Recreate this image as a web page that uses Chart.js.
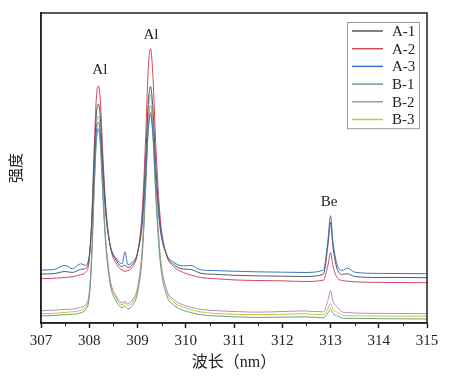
<!DOCTYPE html>
<html>
<head>
<meta charset="utf-8">
<script src="https://cdn.jsdelivr.net/npm/chart.js@4.4.1/dist/chart.umd.min.js"></script>
<style>
  html, body { margin: 0; padding: 0; background: #fff; }
  #wrap { width: 450px; height: 381px; position: relative; }
</style>
</head>
<body>
<div id="wrap"><canvas id="chart"></canvas></div>
<script>
// --- DATA (intensity in arbitrary units 0-100) ---

const wavelength = [
    307.0, 307.25, 307.5, 307.65, 307.82, 307.92, 308.0, 308.05, 308.1, 308.15,
    308.19, 308.23, 308.28, 308.34, 308.43, 308.57, 308.68, 308.74, 308.8, 308.9,
    309.0, 309.1, 309.17, 309.22, 309.27, 309.32, 309.38, 309.47, 309.6, 309.75,
    309.95, 310.1, 310.3, 310.6, 311.0, 311.5, 312.0, 312.45, 312.85, 312.95,
    313.0, 313.05, 313.15, 313.25, 313.35, 313.5, 314.0, 314.5, 315.0
];

const seriesA1 = [
    15.8, 15.9, 16.6, 16.3, 17.3, 17.6, 21.2, 32.2, 51.9, 67.8,
    70.6, 66.2, 51.6, 36.9, 25.4, 19.9, 18.2, 18.7, 17.9, 19.0,
    22.5, 34.0, 53.3, 70.3, 76.3, 69.1, 50.7, 31.9, 22.0, 18.9,
    17.4, 17.3, 16.1, 15.7, 15.4, 15.2, 15.1, 15.0, 15.7, 25.5,
    32.5, 24.6, 16.9, 15.7, 15.9, 15.0, 14.7, 14.7, 14.6
];

const seriesA2 = [
    14.3, 14.4, 14.7, 14.9, 15.6, 16.3, 20.4, 32.9, 55.3, 73.3,
    76.5, 71.6, 55.0, 38.3, 25.2, 18.9, 17.1, 16.7, 16.9, 18.2,
    22.5, 36.6, 60.2, 81.1, 88.5, 79.6, 57.1, 34.0, 22.0, 18.2,
    16.3, 15.5, 14.7, 14.3, 13.9, 13.7, 13.6, 13.4, 13.8, 18.9,
    22.7, 18.4, 14.4, 13.7, 13.5, 13.3, 13.1, 13.05, 13.0
];

const seriesA3 = [
    17.1, 17.2, 18.6, 17.5, 19.1, 18.6, 21.8, 31.3, 48.4, 62.3,
    64.7, 60.9, 48.1, 35.4, 25.3, 20.6, 19.1, 23.0, 18.8, 19.7,
    22.6, 32.1, 48.2, 62.3, 67.3, 61.2, 46.1, 30.3, 22.2, 19.6,
    18.4, 18.6, 17.2, 16.9, 16.7, 16.5, 16.4, 16.3, 17.0, 27.2,
    34.6, 26.3, 18.3, 17.0, 17.7, 16.4, 16.0, 15.95, 15.9
];

const seriesB1 = [
    2.3, 2.4, 2.7, 2.8, 3.3, 4.3, 8.2, 20.3, 42.0, 59.4,
    62.5, 57.7, 41.6, 25.5, 12.8, 6.8, 4.9, 5.4, 4.6, 5.8,
    9.6, 22.0, 43.1, 61.5, 68.0, 60.1, 40.3, 19.8, 9.1, 5.8,
    4.1, 3.4, 2.7, 2.3, 2.0, 1.8, 1.9, 2.0, 1.7, 3.3,
    4.5, 3.1, 2.2, 1.6, 1.5, 1.5, 1.4, 1.35, 1.3
];

const seriesB2 = [
    4.0, 4.1, 4.4, 4.5, 5.0, 5.9, 9.8, 21.6, 42.6, 59.7,
    62.7, 58.1, 42.4, 26.6, 14.2, 8.4, 6.6, 6.9, 6.3, 7.5,
    11.4, 23.8, 45.1, 63.6, 70.2, 62.2, 42.3, 21.6, 10.9, 7.6,
    5.8, 5.1, 4.4, 4.0, 3.7, 3.5, 3.7, 3.9, 3.6, 7.5,
    10.5, 7.1, 5.0, 3.5, 3.4, 3.2, 3.1, 3.05, 3.0
];

const seriesB3 = [
    3.0, 3.1, 3.4, 3.6, 4.1, 5.1, 9.4, 22.1, 45.0, 63.5,
    66.8, 61.8, 44.6, 27.6, 14.1, 7.8, 5.9, 6.5, 5.6, 6.8,
    10.9, 24.3, 46.9, 66.8, 73.8, 65.3, 43.9, 21.9, 10.5, 6.8,
    5.1, 4.3, 3.6, 3.1, 2.8, 2.7, 2.8, 3.0, 2.6, 4.7,
    6.3, 4.5, 3.4, 2.5, 2.4, 2.3, 2.25, 2.2, 2.2
];

const seriesNames = ['A-1', 'A-2', 'A-3', 'B-1', 'B-2', 'B-3'];
const seriesColors = ['#4f5a66', '#d9455f', '#3f74c4', '#6f9f80', '#b48cc0', '#c8c23a'];
const seriesValues = [seriesA1, seriesA2, seriesA3, seriesB1, seriesB2, seriesB3];

// peak labels in data coordinates
const peakLabels = [
    { text: 'Al', x: 308.22, y: 81.6 },
    { text: 'Al', x: 309.28, y: 92.9 },
    { text: 'Be', x: 312.97, y: 39.0 }
];

const SERIF = "'Liberation Serif', 'Noto Sans CJK SC', serif";
const INK = '#222';

// --- PLUGINS ---

// box around the plot plus the short minor ticks
const framePlugin = {
    id: 'frame',
    afterDraw(chart) {
        const { ctx, chartArea: a, scales } = chart;
        ctx.save();
        ctx.strokeStyle = INK;
        ctx.lineWidth = 1.5;
        ctx.strokeRect(a.left, a.top, a.right - a.left, a.bottom - a.top);

        ctx.lineWidth = 1;
        for (let v = 307.5; v < 315; v += 1) {
            const px = Math.round(scales.x.getPixelForValue(v)) + 0.5;
            ctx.beginPath();
            ctx.moveTo(px, a.bottom);
            ctx.lineTo(px, a.bottom + 3);
            ctx.stroke();
        }
        ctx.restore();
    }
};

const labelPlugin = {
    id: 'peakLabels',
    afterDatasetsDraw(chart) {
        const { ctx, scales } = chart;
        ctx.save();
        ctx.fillStyle = INK;
        ctx.font = `15px ${SERIF}`;
        ctx.textAlign = 'center';
        ctx.textBaseline = 'middle';
        peakLabels.forEach(p => {
            ctx.fillText(p.text, scales.x.getPixelForValue(p.x), scales.y.getPixelForValue(p.y));
        });
        ctx.restore();
    }
};

// legend box in the top-right corner of the plot
const legendPlugin = {
    id: 'boxLegend',
    afterDraw(chart) {
        const { ctx, chartArea: a } = chart;
        const boxRight = a.right - 8;
        const boxW = 72;
        const boxTop = a.top + 9;
        const rowH = 17.7;
        const boxH = rowH * seriesNames.length;
        const left = boxRight - boxW;

        ctx.save();
        ctx.fillStyle = '#fff';
        ctx.fillRect(left, boxTop, boxW, boxH);
        ctx.strokeStyle = '#999';
        ctx.lineWidth = 1;
        ctx.strokeRect(left + 0.5, boxTop + 0.5, boxW, boxH);

        ctx.font = `15px ${SERIF}`;
        ctx.textBaseline = 'middle';
        ctx.textAlign = 'left';
        seriesNames.forEach((name, i) => {
            const cy = boxTop + 9 + i * rowH;
            ctx.strokeStyle = seriesColors[i];
            ctx.lineWidth = 1.5;
            ctx.beginPath();
            ctx.moveTo(left + 5, cy);
            ctx.lineTo(left + 36, cy);
            ctx.stroke();
            ctx.fillStyle = INK;
            ctx.fillText(name, left + 45, cy + 1);
        });
        ctx.restore();
    }
};

// --- CHART ---

const datasets = seriesNames.map((name, i) => ({
    label: name,
    data: wavelength.map((x, j) => ({ x: x, y: seriesValues[i][j] })),
    borderColor: seriesColors[i],
    borderWidth: 1,
    pointRadius: 0,
    cubicInterpolationMode: 'monotone',
    fill: false
}));

new Chart(document.getElementById('chart'), {
    type: 'line',
    data: { datasets },
    options: {
        responsive: true,
        maintainAspectRatio: false,
        animation: false,
        layout: { padding: { top: 13, right: 23, left: 0, bottom: 0 } },
        plugins: {
            legend: { display: false },
            tooltip: { enabled: false }
        },
        scales: {
            x: {
                type: 'linear',
                min: 307,
                max: 315,
                afterFit: (scale) => { scale.height = 58; },
                ticks: {
                    stepSize: 1,
                    color: INK,
                    padding: 4,
                    maxRotation: 0,
                    font: { family: SERIF, size: 15 },
                    callback: (v) => v
                },
                grid: {
                    display: true,
                    drawOnChartArea: false,
                    drawTicks: true,
                    tickLength: 5,
                    tickColor: INK,
                    tickWidth: 1.5
                },
                border: { display: true, color: INK, width: 1.5 },
                title: {
                    display: true,
                    text: '波长（nm）',
                    color: INK,
                    font: { family: SERIF, size: 16 },
                    padding: { top: 0, bottom: 9 }
                }
            },
            y: {
                min: 0,
                max: 100,
                afterFit: (scale) => { scale.width = 41; },
                ticks: { display: false },
                grid: { display: false },
                border: { display: true, color: INK, width: 1.5 },
                title: {
                    display: true,
                    text: '强度',
                    color: INK,
                    font: { family: SERIF, size: 15 },
                    padding: { top: 8, bottom: 0 }
                }
            }
        }
    },
    plugins: [framePlugin, labelPlugin, legendPlugin]
});
</script>
</body>
</html>
